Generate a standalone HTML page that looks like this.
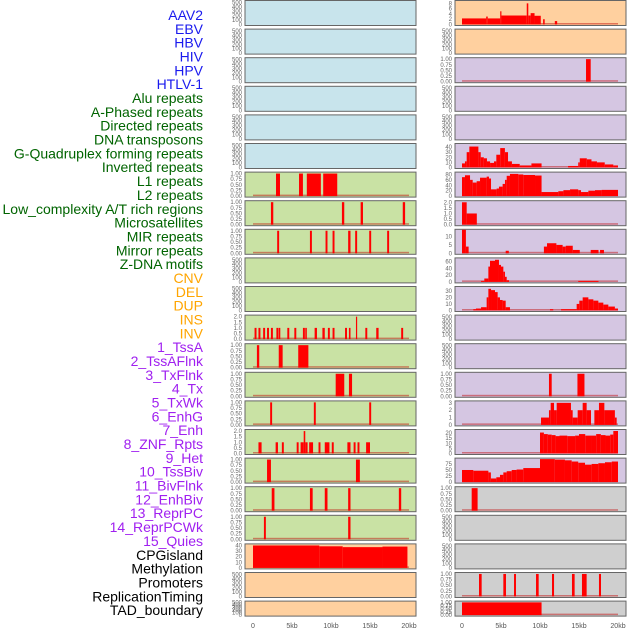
<!DOCTYPE html>
<html><head><meta charset="utf-8"><style>
body{margin:0;background:#fff;width:630px;height:630px;overflow:hidden}
svg{display:block}
</style></head><body>
<svg id="chart" width="630" height="630" xmlns="http://www.w3.org/2000/svg" font-family="Liberation Sans, sans-serif"></svg>
<script>
// ---------- labels ----------
const trackLabels = ["AAV2","EBV","HBV","HIV","HPV","HTLV-1","Alu repeats","A-Phased repeats","Directed repeats","DNA transposons","G-Quadruplex forming repeats","Inverted repeats","L1 repeats","L2 repeats","Low_complexity A/T rich regions","Microsatellites","MIR repeats","Mirror repeats","Z-DNA motifs","CNV","DEL","DUP","INS","INV","1_TssA","2_TssAFlnk","3_TxFlnk","4_Tx","5_TxWk","6_EnhG","7_Enh","8_ZNF_Rpts","9_Het","10_TssBiv","11_BivFlnk","12_EnhBiv","13_ReprPC","14_ReprPCWk","15_Quies","CPGisland","Methylation","Promoters","ReplicationTiming","TAD_boundary"];
const labelGroups = [6,13,5,15,5];
const groupColors = ["#1a1aee","#006400","#ffa500","#a020f0","#000000"];
const xTickLabels = ["0","5kb","10kb","15kb","20kb"];
const xTickValues = [0,5,10,15,20];

// ---------- left column data (segments: [startKb, endKb, value]) ----------
const tick500 = [0,100,200,300,400,500];
const tick1 = [0,0.25,0.5,0.75,1];
const tick2 = [0,0.5,1,1.5,2];
const segL6 = [[2.95,3.46,1],[5.9,6.4,1],[6.9,8.7,1],[9.0,10.8,1]];
const segL7 = [[2.3,2.6,1],[11.4,11.7,1],[13.8,14.1,1],[19.2,19.5,1]];
const segL8 = [[3.1,3.35,1],[7.3,7.55,1],[9.3,9.55,1],[10.2,10.45,1],[12.2,12.5,1],[13.1,13.35,1],[14.9,15.15,1],[17.2,17.45,1]];
const segL11 = [[0.2,0.45,1],[0.7,0.95,1],[1.3,1.55,1],[1.8,2.05,1],[2.3,2.55,1],[3.0,3.25,1],[3.3,3.5,1],[4.4,4.65,1],[5.3,5.55,1],[6.4,6.65,1],[6.7,6.9,1],[7.9,8.2,1],[8.9,9.2,1],[9.6,9.85,1],[10.2,10.45,1],[11.8,12.05,1],[12.3,12.5,1],[13.2,13.35,2],[14.4,14.65,1],[15.8,16.1,1],[19.0,19.25,1]];
const segL12 = [[0.5,0.8,1],[3.3,3.8,1],[5.8,7.1,1]];
const segL13 = [[10.6,11.7,1],[12.3,12.7,1]];
const segL14 = [[2.2,2.45,1],[7.8,8.05,1],[14.9,15.15,1]];
const segL15 = [[0.7,1.1,1],[2.9,3.2,1],[3.7,3.95,1],[5.6,5.85,1],[6.1,6.5,1],[6.5,6.7,2],[6.7,7.0,1],[7.2,7.7,1],[8.4,8.65,1],[9.2,9.8,1],[10.1,10.35,1],[12.1,12.5,1],[12.9,13.15,1],[13.4,13.65,1],[14.5,15.0,1]];
const segL16 = [[1.8,2.3,1],[13.2,13.7,1]];
const segL17 = [[2.4,2.75,1],[7.3,7.65,1],[9.2,9.55,1],[12.2,12.5,1],[18.7,19.0,1]];
const segL18 = [[1.4,1.65,1],[12.2,12.5,1]];
const segL19 = [[0,8.5,40],[8.5,11.5,38.5],[11.5,16.6,37],[16.6,19.8,38]];

// ---------- right column data ----------
const segR0 = [[0,3.1,2.3],[3.1,3.3,3],[3.3,4.9,2.3],[4.9,5.05,5],[5.05,8.3,3.4],[8.3,8.5,8],[8.5,8.8,3.4],[8.8,9.3,4.3],[9.3,10.1,3.3],[10.4,10.6,2],[11.9,12.2,1.3]];
const segR2 = [[15.9,16.5,1]];
const segR5 = [[0,0.38,8],[0.38,0.6,12],[0.6,0.94,30],[0.94,2.1,41],[2.1,2.4,30],[2.4,2.8,20],[2.8,3.2,18],[3.2,3.6,12],[3.6,4.1,9],[4.1,4.4,12],[4.4,4.9,25],[4.9,5.5,38],[5.5,5.9,30],[5.9,6.4,12],[6.4,7.4,7],[7.4,8.9,4],[8.9,10.2,8],[13.6,14.9,3],[14.9,15.1,10],[15.1,16.0,18],[16.0,16.6,16],[16.6,17.3,12],[17.3,18.3,10],[18.3,19.4,6],[19.4,20,4]];
const segR6 = [[0,0.38,70],[0.38,1.03,77],[1.03,1.37,60],[1.37,1.88,50],[1.88,2.31,55],[2.31,3.16,68],[3.16,3.46,72],[3.46,3.72,65],[3.72,4.44,25],[4.44,4.74,28],[4.74,5.21,35],[5.21,5.51,45],[5.51,5.73,60],[5.73,6.15,75],[6.15,7.22,82],[7.22,7.86,80],[7.86,9.36,78],[9.36,10.2,76],[10.2,12.35,15],[12.35,13.0,18],[13.0,13.85,22],[13.85,14.9,25],[14.9,15.26,22],[15.26,16.2,15],[16.2,17.05,20],[17.05,17.9,22],[17.9,20,23]];
const segR7 = [[0,0.6,2],[0.6,1.9,1]];
const segR8 = [[0,0.5,14],[0.5,0.85,4],[5.6,6.0,1.5],[10.5,10.9,4],[10.9,12.1,6],[12.1,12.9,5],[12.9,13.3,4],[13.3,14.2,4.5],[14.2,15.1,2],[16.5,17.5,2],[17.7,18.2,2]];
const segR9 = [[2.44,2.86,3],[2.86,3.38,10],[3.38,3.59,45],[3.59,4.23,62],[4.23,4.74,65],[4.74,5.0,50],[5.0,5.3,45],[5.3,5.51,30],[5.51,5.73,15],[5.73,6.03,5],[14.9,17.5,3]];
const segR10 = [[1.45,1.79,2],[1.79,2.44,3],[2.44,3.16,5],[3.16,3.38,20],[3.38,3.72,33],[3.72,4.23,31],[4.23,4.57,28],[4.57,4.87,20],[4.87,5.21,16],[5.21,5.6,15],[5.6,6.15,5],[11.28,11.7,2],[12.7,14.7,2],[14.7,15.04,10],[15.04,15.47,15],[15.47,16.2,20],[16.2,16.84,17],[16.84,17.48,15],[17.48,18.12,12],[18.12,18.76,9],[18.76,19.6,6],[19.6,20,3]];
const segR13 = [[11.15,11.5,1],[14.8,15.7,1]];
const segR14 = [[10.13,11.15,1],[11.15,11.37,2],[11.37,11.8,3],[11.8,12.14,2],[12.14,13.97,3],[13.97,14.19,2],[14.19,14.83,1],[14.83,15.47,2],[15.47,15.98,3],[15.98,16.54,2],[16.97,17.56,2],[17.56,18.25,3],[18.25,19.6,2],[19.6,19.83,1]];
const segR15 = [[10.0,10.5,20.5],[10.5,11,19],[11,11.5,18.5],[11.5,12,18],[12,12.5,17],[12.5,13.5,17.5],[13.5,14.5,17],[14.5,15,17.5],[15,15.8,19],[15.8,16.6,17.5],[16.6,17.2,17.5],[17.2,17.8,19],[17.8,18.4,18],[18.4,19.0,17.5],[19.0,19.4,18.5],[19.4,20,22]];
const segR16 = [[0,1.45,50],[1.45,3.38,47],[3.38,3.7,40],[3.7,4.4,15],[4.4,4.87,20],[4.87,5.3,30],[5.3,5.73,40],[5.73,6.37,45],[6.37,7.0,50],[7.0,7.86,52],[7.86,10.0,58],[10.0,11.9,95],[11.9,13.2,93],[13.2,14.06,90],[14.06,14.9,85],[14.9,15.77,80],[15.77,16.62,72],[16.62,17.48,75],[17.48,18.33,78],[18.33,19.2,82],[19.2,20,85]];
const segR17 = [[1.24,2.0,1]];
const segR20 = [[2.18,2.52,1],[5.3,5.64,1],[6.67,6.92,1],[9.49,9.83,1],[11.54,11.8,1],[14.1,14.44,1],[15.38,15.98,1],[17.56,17.82,1]];
const segR21 = [[0,10.2,1]];

const BLUE="#c8e4ec",GREEN="#c9e2a4",PEACH="#ffd09f",LAV="#d5c6e2",GRAY="#cfcfcf";
function P(bg,ymax,ticks,segs,name,dec){return {bg,ymax,ticks,segs,name,dec:dec||0};}
const leftPanels=[
 P(BLUE,520,tick500,null,"aav2"),P(BLUE,520,tick500,null,"hbv"),P(BLUE,520,tick500,null,"hpv"),
 P(BLUE,520,tick500,null,"alu"),P(BLUE,520,tick500,null,"directed"),P(BLUE,520,tick500,null,"g-quad"),
 P(GREEN,1.02,tick1,segL6,"l1",2),P(GREEN,1.02,tick1,segL7,"low-complexity",2),P(GREEN,1.02,tick1,segL8,"mir",2),
 P(GREEN,520,tick500,null,"z-dna"),P(GREEN,520,tick500,null,"del"),P(GREEN,2.05,tick2,segL11,"ins",1),
 P(GREEN,1.02,tick1,segL12,"tssa",2),P(GREEN,1.02,tick1,segL13,"txflnk",2),P(GREEN,1.02,tick1,segL14,"txwk",2),
 P(GREEN,2.05,tick2,segL15,"enh",1),P(GREEN,1.02,tick1,segL16,"het",2),P(GREEN,1.02,tick1,segL17,"bivflnk",2),
 P(GREEN,1.02,tick1,segL18,"reprpc",2),P(PEACH,41,[0,10,20,30,40],segL19,"quies"),
 P(PEACH,520,tick500,null,"promoters"),P(PEACH,520,tick500,null,"tad")];
const rightPanels=[
 P(PEACH,8.7,[0,2,4,6,8],segR0,"r0"),P(PEACH,520,tick500,null,"r1"),P(LAV,1.02,tick1,segR2,"r2",2),
 P(LAV,520,tick500,null,"r3"),P(LAV,520,tick500,null,"r4"),P(LAV,45,[0,10,20,30,40],segR5,"r5"),
 P(LAV,85,[0,20,40,60,80],segR6,"r6"),P(LAV,2.05,tick2,segR7,"r7",1),P(LAV,13.7,[0,5,10],segR8,"r8"),
 P(LAV,67.6,[0,20,40,60],segR9,"r9"),P(LAV,35,[0,10,20,30],segR10,"r10"),P(LAV,520,tick500,null,"r11"),
 P(LAV,520,tick500,null,"r12"),P(LAV,1.02,tick1,segR13,"r13",2),P(LAV,3.13,[0,1,2,3],segR14,"r14"),
 P(LAV,22.5,[0,5,10,15,20],segR15,"r15"),P(LAV,95,[0,25,50,75],segR16,"r16"),P(GRAY,1.02,tick1,segR17,"r17",2),
 P(GRAY,520,tick500,null,"r18"),P(GRAY,520,tick500,null,"r19"),P(GRAY,1.02,tick1,segR20,"r20",2),
 P(GRAY,1.02,tick1,segR21,"r21",2)];

const NS="http://www.w3.org/2000/svg";
const svg=document.getElementById("chart");
function el(tag,attrs,parent){const e=document.createElementNS(NS,tag);for(const k in attrs)e.setAttribute(k,attrs[k]);(parent||svg).appendChild(e);return e;}

// labels
let li=0;
labelGroups.forEach((n,g)=>{for(let i=0;i<n;i++){
  const t=el("text",{x:203,y:15+li*13.84+5,"text-anchor":"end","font-size":"14",fill:groupColors[g]});
  t.textContent=trackLabels[li];
  
  
  li++;}});

const PXKB=7.8, STEP=28.6;
function xScale(col,kb){return (col===0?253:462)+kb*PXKB;}
function drawPanel(p,col,row){
  const left=col===0?245:455, w=171;
  const top=row*STEP+0.5, h=row===21?15:25;
  const g=el("g",{});
  
  
  el("rect",{x:left,y:top,width:w,height:h,fill:p.bg,stroke:"#666","stroke-width":1},g);
  const y0=top+h-1, ph=h-2;
  const yS=v=>y0-v/p.ymax*ph;
  p.ticks.forEach(tv=>{
    const t=el("text",{x:left-3,y:yS(tv)+2,"text-anchor":"end","font-size":"6",fill:"#666"},g);
    t.textContent=tv.toFixed(p.dec);
    
    
  });
  if(p.segs){
    const b=el("rect",{x:xScale(col,0),y:y0-1.5,width:20*PXKB,height:1.5,fill:"rgba(190,0,0,0.45)"},g);
    
    
    p.segs.forEach(s=>{
      const x1=xScale(col,s[0]),x2=xScale(col,s[1]);
      const bar=el("rect",{x:x1,y:yS(s[2]),width:Math.max(1.2,x2-x1),height:y0-yS(s[2]),fill:"#ff0000"},g);
      
      
    });
  }
}
leftPanels.forEach((p,i)=>drawPanel(p,0,i));
rightPanels.forEach((p,i)=>drawPanel(p,1,i));
[0,1].forEach(col=>{xTickValues.forEach((v,i)=>{
  const t=el("text",{x:xScale(col,v),y:628,"text-anchor":"middle","font-size":"7",fill:"#555"});
  t.textContent=xTickLabels[i];
  
  
});});
</script>
</body></html>
